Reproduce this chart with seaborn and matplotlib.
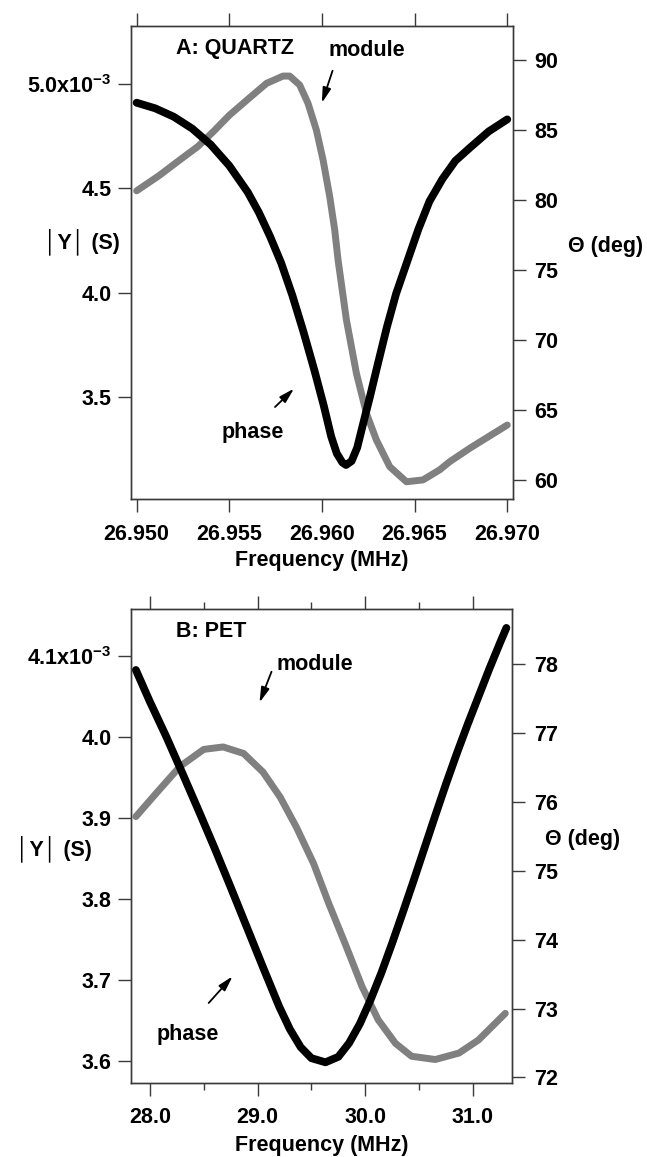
import numpy as np
import pandas as pd
import matplotlib
matplotlib.use("Agg")
import matplotlib.pyplot as plt
import seaborn as sns

# ---- panel A : quartz ----
a_freq_mod = [26.95000, 26.95120, 26.95233, 26.95330, 26.95413, 26.95500, 26.95611,
              26.95701, 26.95790, 26.95826, 26.95880, 26.95925, 26.95970, 26.96006,
              26.96042, 26.96069, 26.96087, 26.96132, 26.96186, 26.96240, 26.96294,
              26.96366, 26.96456, 26.96545, 26.96635, 26.96689, 26.96800, 26.96900,
              26.97000]
a_module = [4.488, 4.560, 4.636, 4.700, 4.771, 4.850, 4.935,
            5.003, 5.038, 5.038, 4.995, 4.907, 4.779, 4.636,
            4.460, 4.300, 4.156, 3.869, 3.613, 3.421, 3.293,
            3.165, 3.093, 3.102, 3.150, 3.189, 3.255, 3.310,
            3.365]  # x10^-3 S

a_freq_ph = [26.9500, 26.9510, 26.9520, 26.9530, 26.9540, 26.9550, 26.9560, 26.9566,
             26.9572, 26.9578, 26.9584, 26.9590, 26.9596, 26.9601, 26.9605, 26.9608,
             26.9611, 26.9613, 26.9616, 26.9619, 26.9622, 26.9626, 26.9630, 26.9635,
             26.9640, 26.9646, 26.9652, 26.9658, 26.9665, 26.9672, 26.9680, 26.9690,
             26.9700]
a_phase = [86.95, 86.55, 85.95, 85.10, 83.95, 82.45, 80.55, 79.10,
           77.40, 75.50, 73.20, 70.60, 67.80, 65.30, 63.10, 61.90,
           61.25, 61.07, 61.35, 62.30, 63.90, 66.00, 68.20, 70.90,
           73.30, 75.60, 77.90, 79.90, 81.50, 82.80, 83.75, 84.90,
           85.76]

# ---- panel B : PET ----
b_freq_mod = [27.87, 28.06, 28.28, 28.50, 28.68, 28.87, 29.05, 29.21, 29.36, 29.52,
              29.66, 29.81, 29.97, 30.12, 30.28, 30.43, 30.65, 30.87, 31.05, 31.30]
b_module = [3.902, 3.931, 3.964, 3.985, 3.988, 3.980, 3.957, 3.926, 3.889, 3.844,
            3.795, 3.746, 3.692, 3.651, 3.622, 3.606, 3.602, 3.610, 3.626, 3.659]

b_freq_ph = [27.87, 28.00, 28.15, 28.30, 28.45, 28.60, 28.75, 28.90, 29.05, 29.20,
             29.30, 29.40, 29.50, 29.63, 29.75, 29.85, 29.95, 30.05, 30.15, 30.25,
             30.35, 30.45, 30.55, 30.65, 30.75, 30.85, 30.95, 31.05, 31.15, 31.25,
             31.31]
b_phase = [77.91, 77.45, 76.95, 76.42, 75.88, 75.33, 74.76, 74.18, 73.60, 73.03,
           72.70, 72.44, 72.28, 72.22, 72.30, 72.50, 72.78, 73.13, 73.52, 73.95,
           74.40, 74.86, 75.33, 75.80, 76.26, 76.70, 77.12, 77.52, 77.92, 78.30,
           78.52]

a_xticks = [26.950, 26.955, 26.960, 26.965, 26.970]
a_xticklabels = ["26.950", "26.955", "26.960", "26.965", "26.970"]
a_yticks = [3.5, 4.0, 4.5, 5.0]
a_yticklabels = ["3.5", "4.0", "4.5", r"5.0x10$^{\mathbf{-3}}$"]
a_y2ticks = [60, 65, 70, 75, 80, 85, 90]

b_xticks = [28.0, 29.0, 30.0, 31.0]
b_xticklabels = ["28.0", "29.0", "30.0", "31.0"]
b_xminor = [28.5, 29.5, 30.5]
b_yticks = [3.6, 3.7, 3.8, 3.9, 4.0, 4.1]
b_yticklabels = ["3.6", "3.7", "3.8", "3.9", "4.0", r"4.1x10$^{\mathbf{-3}}$"]
b_y2ticks = [72, 73, 74, 75, 76, 77, 78]

sns.set_style("ticks")
plt.rcParams['font.family'] = ['Liberation Sans', 'DejaVu Sans']
plt.rcParams['font.weight'] = 'bold'
plt.rcParams['text.color'] = 'black'
plt.rcParams['axes.labelcolor'] = 'black'
plt.rcParams['mathtext.fontset'] = 'custom'
plt.rcParams['mathtext.bf'] = 'Liberation Sans:bold'
plt.rcParams['mathtext.rm'] = 'Liberation Sans:bold'

GRAY = '#808080'
SPINE = '#3a3a3a'
FS = 15.5

W, H = 647, 1157
fig = plt.figure(figsize=(W / 100, H / 100), dpi=100)


def make_axes(x0, x1, ytop, ybot):
    return fig.add_axes([x0 / W, 1 - ybot / H, (x1 - x0) / W, (ybot - ytop) / H])


def style(ax):
    for s in ax.spines.values():
        s.set_visible(True)
        s.set_color(SPINE)
        s.set_linewidth(1.0)
    ax.tick_params(which='both', direction='out', color=SPINE, width=1.0,
                   labelsize=FS, labelcolor='black')
    ax.tick_params(which='major', length=9.5)
    ax.tick_params(which='minor', length=5)


def panel(ax, fm, mod, fp, ph, xlim, ylim, y2lim, xt, xtl, yt, ytl, y2t, minor,
          title, lab):
    ax2 = ax.twinx()
    sns.lineplot(x=fm, y=mod, ax=ax, color=GRAY, linewidth=5.0, sort=False,
                 solid_capstyle='round', solid_joinstyle='round')
    sns.lineplot(x=fp, y=ph, ax=ax2, color='black', linewidth=5.6, sort=False,
                 solid_capstyle='round', solid_joinstyle='round')
    ax.set_xlim(*xlim)
    ax.set_ylim(*ylim)
    ax2.set_ylim(*y2lim)
    for a in (ax, ax2):
        style(a)
    ax.set_xticks(xt)
    ax.set_xticklabels(xtl, fontweight='bold')
    if minor:
        ax.set_xticks(minor, minor=True)
    ax.set_yticks(yt)
    ax.set_yticklabels(ytl, fontweight='bold')
    ax2.set_yticks(y2t)
    ax2.set_yticklabels([str(v) for v in y2t], fontweight='bold')
    ax.tick_params(axis='x', which='both', top=True, labeltop=False, pad=8)
    ax.tick_params(axis='y', pad=4)
    ax2.tick_params(axis='y', pad=6)

    ax.set_xlabel("Frequency (MHz)", fontsize=FS, fontweight='bold')
    ax.xaxis.set_label_coords(0.5, lab['xl'])
    ax.xaxis.label.set_va('center')
    # thin tall bars, as in the original figure
    ax.set_ylabel("│Y│ (S)", fontsize=FS, fontweight='bold', rotation=0,
                  ha='left', va='center')
    ax.yaxis.label.set_family(['Liberation Sans', 'DejaVu Sans'])
    ax.yaxis.set_label_coords(*lab['yl'])
    ax2.set_ylabel("Θ (deg)", fontsize=FS, fontweight='bold', rotation=0,
                   ha='left', va='center')
    ax2.yaxis.set_label_coords(*lab['y2l'])

    ax.text(*lab['title'], title, transform=ax.transAxes, fontsize=FS,
            fontweight='bold', ha='left', va='center')
    ax.text(*lab['mod'], "module", transform=ax.transAxes, fontsize=FS,
            fontweight='bold', ha='left', va='center')
    ax.text(*lab['ph'], "phase", transform=ax.transAxes, fontsize=FS,
            fontweight='bold', ha='left', va='center')
    arrow = dict(arrowstyle='-|>,head_length=0.9,head_width=0.25', lw=1.3,
                 color='black', shrinkA=0, shrinkB=0)
    ax.annotate("", xy=lab['mod_head'], xytext=lab['mod_tail'],
                xycoords='axes fraction', textcoords='axes fraction',
                arrowprops=arrow)
    ax.annotate("", xy=lab['ph_head'], xytext=lab['ph_tail'],
                xycoords='axes fraction', textcoords='axes fraction',
                arrowprops=arrow)
    return ax2


axA = make_axes(130.7, 513.0, 26.0, 499.3)
panel(axA, a_freq_mod, a_module, a_freq_ph, a_phase,
      (26.94968, 26.97031), (3.009, 5.278), (58.62, 92.43),
      a_xticks, a_xticklabels, a_yticks, a_yticklabels, a_y2ticks, None,
      "A: QUARTZ",
      dict(xl=-0.13, yl=(-0.227, 0.544), y2l=(1.144, 0.535),
           title=(0.1185, 0.9535), mod=(0.518, 0.949), ph=(0.239, 0.142),
           mod_tail=(0.528, 0.9055), mod_head=(0.500, 0.8375),
           ph_tail=(0.3775, 0.195), ph_head=(0.4272, 0.2339)))

axB = make_axes(130.5, 512.3, 609.3, 1083.0)
panel(axB, b_freq_mod, b_module, b_freq_ph, b_phase,
      (27.82, 31.365), (3.573, 4.158), (71.92, 78.79),
      b_xticks, b_xticklabels, b_yticks, b_yticklabels, b_y2ticks, b_xminor,
      "B: PET",
      dict(xl=-0.132, yl=(-0.301, 0.494), y2l=(1.085, 0.514),
           title=(0.1181, 0.9531), mod=(0.3837, 0.8838), ph=(0.0694, 0.1024),
           mod_tail=(0.3693, 0.8682), mod_head=(0.3379, 0.8032),
           ph_tail=(0.2048, 0.1689), ph_head=(0.2674, 0.2252)))

fig.savefig("out.png", dpi=100, facecolor='white')
